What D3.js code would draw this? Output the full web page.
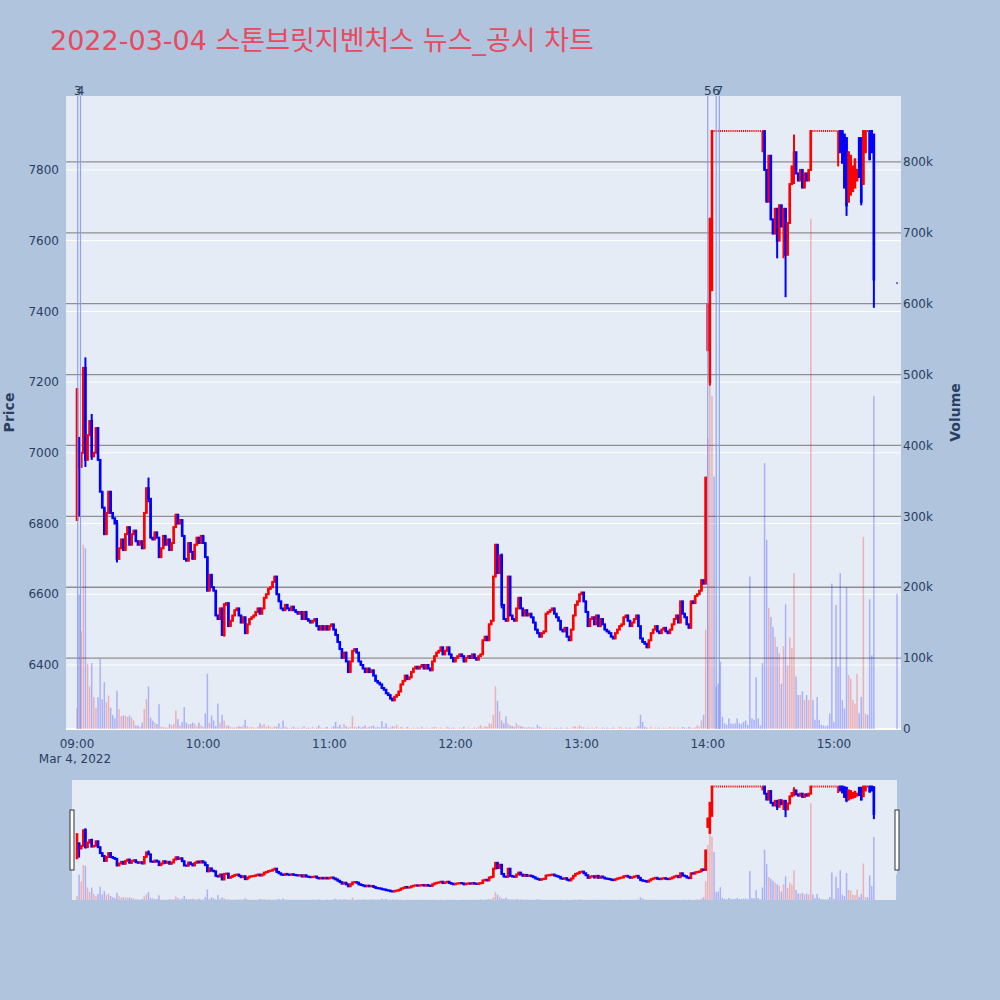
<!DOCTYPE html>
<html>
<head>
<meta charset="utf-8">
<script src="https://cdn.jsdelivr.net/npm/d3@7"></script>
<style>
  body { margin: 0; background: #b0c4de; }
  text { font-family: "DejaVu Sans", "Noto Sans CJK KR", sans-serif; }
</style>
</head>
<body>
<svg id="chart" width="1000" height="1000"></svg>
<script>
// 1-minute closes from 09:00 (index = minutes after 09:00)
const closes = [
  7180,6960,7000,7240,6980,7050,7090,6990,7000,7070,
  6980,6890,6845,6770,6830,6890,6830,6815,6800,6700,
  6730,6755,6725,6770,6790,6740,6770,6780,6750,6740,
  6750,6730,6830,6900,6870,6760,6755,6775,6760,6705,
  6730,6765,6740,6755,6725,6745,6790,6825,6800,6810,
  6765,6700,6695,6745,6720,6700,6740,6760,6745,6765,
  6745,6705,6610,6655,6620,6610,6540,6530,6560,6485,
  6570,6575,6510,6525,6540,6555,6560,6540,6520,6535,
  6490,6515,6530,6535,6540,6550,6560,6545,6560,6590,
  6600,6615,6620,6635,6650,6600,6580,6560,6555,6570,
  6560,6555,6565,6555,6550,6545,6550,6530,6550,6530,
  6525,6520,6525,6530,6510,6500,6510,6500,6510,6500,
  6510,6515,6500,6485,6465,6445,6420,6435,6410,6380,
  6410,6440,6445,6435,6410,6400,6390,6380,6390,6380,
  6385,6370,6355,6350,6345,6335,6330,6320,6315,6305,
  6300,6310,6315,6325,6345,6355,6370,6360,6365,6380,
  6390,6395,6390,6395,6400,6390,6400,6390,6385,6410,
  6425,6435,6440,6450,6430,6440,6450,6430,6420,6410,
  6420,6425,6430,6425,6410,6420,6425,6420,6430,6420,
  6415,6425,6430,6470,6480,6470,6515,6525,6650,6740,
  6660,6710,6570,6530,6525,6650,6540,6530,6525,6560,
  6590,6560,6540,6555,6540,6545,6535,6520,6500,6490,
  6480,6490,6495,6545,6550,6555,6560,6545,6535,6525,
  6500,6495,6505,6480,6470,6500,6540,6570,6580,6600,
  6605,6580,6550,6510,6530,6535,6515,6540,6510,6530,
  6515,6500,6495,6490,6480,6475,6490,6500,6510,6515,
  6535,6540,6525,6510,6520,6530,6540,6510,6475,6465,
  6460,6450,6470,6490,6500,6510,6495,6490,6500,6505,
  6495,6490,6500,6515,6530,6540,6520,6580,6545,6535,
  6515,6505,6580,6575,6595,6600,6610,6640,6630,6930,
  7420,7660,7910,7910,7910,7910,7910,7910,7910,7910,
  7910,7910,7910,7910,7910,7910,7910,7910,7910,7910,
  7910,7910,7910,7910,7910,7910,7910,7800,7710,7840,
  7660,7620,7690,7600,7700,7640,7690,7560,7650,7760,
  7810,7850,7790,7770,7800,7750,7790,7770,7800,7910,
  7910,7910,7910,7910,7910,7910,7910,7910,7910,7910,
  7910,7910,7910,7850,7820,7750,7700,7850,7840,7810,
  7830,7800,7780,7710,7910,7910,7910,7830,7850,7490
];

// volume per minute, thousands of shares
const volumes = [
  30,190,138,260,255,92,60,93,45,30,
  45,99,42,66,38,47,30,20,15,54,
  28,18,19,19,17,19,16,12,5,5,
  3,9,28,42,60,16,12,9,7,35,
  3,3,2,2,7,5,7,26,14,5,
  10,31,9,7,7,9,7,4,9,5,
  3,22,78,9,19,12,4,36,9,20,
  12,5,5,3,2,2,3,4,3,5,
  13,4,2,3,2,1,3,8,5,7,
  3,5,3,2,4,3,8,2,12,3,
  2,1,2,3,1,2,1,2,4,1,
  2,1,3,1,2,5,2,1,2,3,
  1,2,4,10,3,6,2,7,4,2,
  3,18,3,2,4,2,3,5,2,3,
  4,5,2,3,2,11,3,8,2,2,
  4,3,6,2,3,2,1,3,2,1,
  2,1,2,1,3,1,2,1,1,2,
  3,2,1,2,1,1,3,2,1,2,
  1,1,2,1,3,1,2,1,1,2,
  1,3,5,2,4,3,8,7,20,60,
  40,25,12,8,18,8,5,4,3,8,
  5,4,3,2,2,3,2,2,1,6,
  3,2,1,2,1,2,1,1,2,1,
  2,1,1,2,1,1,3,4,2,5,
  3,2,1,2,1,2,1,3,1,1,
  2,1,2,1,1,2,1,1,3,2,
  1,2,1,2,1,1,2,4,20,10,
  3,2,1,3,1,2,1,2,1,2,
  1,1,3,1,2,1,2,1,3,2,
  1,3,2,1,2,5,3,12,20,140,
  410,490,470,356,60,64,95,17,8,6,
  15,8,7,8,15,8,7,10,12,6,
  215,15,13,73,15,5,93,375,267,171,
  158,144,130,116,107,64,117,176,90,129,
  114,220,74,48,48,53,41,48,41,720,
  41,13,45,13,6,5,4,5,22,205,
  10,175,88,220,41,29,200,76,71,41,
  36,78,22,45,271,22,20,183,104,470
];

// candles whose open is not the previous close: [minute, open]
const gapOpens = [
  [0,6810],[1,7040],[300,7290],[301,7200],[302,7460],
  [363,7910],[364,7910],[365,7900],[366,7890],[367,7710],[368,7730],
  [369,7740],[370,7750],[371,7770],[372,7890],[373,7890],[374,7760],
  [375,7850],[377,7910],[378,7910],[379,7900]
];
// visible wicks: [minute, low, high]
const wicks = [
  [1,6820,7045],[4,6960,7270],[7,6980,7110],[19,6690,6810],[34,6860,6930],
  [70,6480,6575],[202,6560,6715],[301,7190,7665],[326,7850,7910],
  [330,7660,7840],[333,7550,7690],[336,7550,7690],[337,7440,7650],
  [341,7760,7900],[362,7810,7910],[366,7670,7890],[373,7700,7890],[379,7410,7900]
];
// 15:30 closing auction
const closingMinute = 390;
const closingPrice = 7480;
const closingVolume = 191;

const newsTimes = ["09:00:20", "09:01:40", "14:00:00", "14:04:00", "14:05:30"];
const newsLabels = ["3", "4", "5", "6", "7"];

const priceTicks = [6400, 6600, 6800, 7000, 7200, 7400, 7600, 7800];
const volumeTicks = [0, 100, 200, 300, 400, 500, 600, 700, 800];
const timeTicks = ["09:00", "10:00", "11:00", "12:00", "13:00", "14:00", "15:00"];
const xDomain = ["08:54:46", "15:31:54"];
const priceDomain = [6219, 8009];
const volumeDomain = [0, 893];
const sliderPriceDomain = [6170, 8010];

const titleText = "2022-03-04 스톤브릿지벤처스 뉴스_공시 차트";

const plot = {left: 66, right: 901, top: 96, bottom: 729};
const slider = {left: 72, right: 897, top: 780, bottom: 900};
const UP = "#ff0000", DOWN = "#0000ff", INK = "#2a3f5f";

const day = s => { const p = s.split(":").map(Number); return new Date(2022, 2, 4, p[0], p[1], p[2] || 0); };
const start = day("09:00");
const atMinute = m => new Date(start.getTime() + m * 60000);

// build candles
const openMap = new Map(gapOpens);
const wickMap = new Map(wicks.map(w => [w[0], [w[1], w[2]]]));
const candles = closes.map((c, m) => {
  const o = openMap.has(m) ? openMap.get(m) : closes[m - 1];
  const w = wickMap.get(m) || [c, c];
  return {t: atMinute(m), o: o, c: c, l: Math.min(o, c, w[0]), h: Math.max(o, c, w[1]), v: volumes[m]};
});
candles.push({t: atMinute(closingMinute), o: closingPrice, c: closingPrice,
  l: closingPrice, h: closingPrice, v: closingVolume});

// plotly-like direction: flat candles compare with previous close, else keep previous direction
let inc = true, prevC = null;
candles.forEach(d => {
  if (d.c === d.o) { if (prevC !== null && d.c !== prevC) inc = d.c > prevC; }
  else inc = d.c > d.o;
  d.inc = inc;
  prevC = d.c;
});

const svg = d3.select("#chart");
svg.append("rect").attr("width", 1000).attr("height", 1000).attr("fill", "#b0c4de");

const x = d3.scaleTime().domain(xDomain.map(day)).range([plot.left, plot.right]);
const yPrice = d3.scaleLinear().domain(priceDomain).range([plot.bottom, plot.top]);
const yVol = d3.scaleLinear().domain(volumeDomain).range([plot.bottom, plot.top]);
const ysPrice = d3.scaleLinear().domain(sliderPriceDomain).range([slider.bottom, slider.top]);
const ysVol = d3.scaleLinear().domain(volumeDomain).range([slider.bottom, slider.top]);

const defs = svg.append("defs");
defs.append("clipPath").attr("id", "clipMain").append("rect")
  .attr("x", plot.left).attr("y", plot.top)
  .attr("width", plot.right - plot.left).attr("height", plot.bottom - plot.top);
defs.append("clipPath").attr("id", "clipSlider").append("rect")
  .attr("x", slider.left).attr("y", slider.top)
  .attr("width", slider.right - slider.left).attr("height", slider.bottom - slider.top);

// plot background + grids
svg.append("rect").attr("x", plot.left).attr("y", plot.top)
  .attr("width", plot.right - plot.left).attr("height", plot.bottom - plot.top)
  .attr("fill", "#e5ecf6");

svg.append("g").selectAll("line").data(priceTicks).join("line")
  .attr("x1", plot.left).attr("x2", plot.right)
  .attr("y1", d => yPrice(d)).attr("y2", d => yPrice(d))
  .attr("stroke", "#fff").attr("stroke-width", 1);

svg.append("g").selectAll("line").data(volumeTicks.slice(1)).join("line")
  .attr("x1", plot.left).attr("x2", plot.right)
  .attr("y1", d => yVol(d)).attr("y2", d => yVol(d))
  .attr("stroke", "#8f8f8f").attr("stroke-width", 1.3);

svg.append("line").attr("x1", plot.left).attr("x2", plot.right)
  .attr("y1", yVol(0)).attr("y2", yVol(0)).attr("stroke", "#fff").attr("stroke-width", 2);

function drawTraces(g, yp, yv) {
  g.append("g").selectAll("rect").data(candles).join("rect")
    .attr("x", d => x(d.t) - 0.75).attr("width", 1.5)
    .attr("y", d => yv(d.v)).attr("height", d => yv(0) - yv(d.v))
    .attr("fill", d => d.c > d.o ? UP : DOWN).attr("fill-opacity", 0.25);

  g.append("g").selectAll("line").data(candles.filter(d => d.h > d.l)).join("line")
    .attr("x1", d => x(d.t)).attr("x2", d => x(d.t))
    .attr("y1", d => yp(d.h)).attr("y2", d => yp(d.l))
    .attr("stroke", d => d.inc ? UP : DOWN).attr("stroke-width", 2);

  // body: box stroke of 2px makes moving candles wider than flat ones
  g.append("g").selectAll("rect").data(candles).join("rect")
    .attr("x", d => x(d.t) - (d.o === d.c ? 0.55 : 1.3))
    .attr("width", d => d.o === d.c ? 1.1 : 2.6)
    .attr("y", d => yp(Math.max(d.o, d.c)) - 1)
    .attr("height", d => Math.abs(yp(d.o) - yp(d.c)) + 2)
    .attr("fill", d => d.inc ? UP : DOWN);
}

drawTraces(svg.append("g").attr("clip-path", "url(#clipMain)"), yPrice, yVol);

// news markers
const news = newsTimes.map((t, i) => ({t: day(t), label: newsLabels[i]}));
svg.append("g").selectAll("line").data(news).join("line")
  .attr("x1", d => x(d.t)).attr("x2", d => x(d.t))
  .attr("y1", plot.top).attr("y2", plot.bottom)
  .attr("stroke", "#7d98ee").attr("stroke-opacity", 0.85).attr("stroke-width", 1.2);
svg.append("g").selectAll("text").data(news).join("text")
  .attr("x", d => x(d.t)).attr("y", plot.top - 1)
  .attr("text-anchor", "middle").attr("font-size", 12).attr("fill", INK)
  .text(d => d.label);

// axes labels
svg.append("g").selectAll("text").data(priceTicks).join("text")
  .attr("x", 59).attr("y", d => yPrice(d)).attr("dy", "0.35em")
  .attr("text-anchor", "end").attr("font-size", 12).attr("fill", INK)
  .text(d => d);
svg.append("g").selectAll("text").data(volumeTicks).join("text")
  .attr("x", 903).attr("y", d => yVol(d)).attr("dy", "0.35em")
  .attr("text-anchor", "start").attr("font-size", 12).attr("fill", INK)
  .text(d => d === 0 ? "0" : d + "k");
svg.append("g").selectAll("text").data(timeTicks).join("text")
  .attr("x", d => x(day(d))).attr("y", 748)
  .attr("text-anchor", "middle").attr("font-size", 12).attr("fill", INK)
  .text(d => d);
svg.append("text").attr("x", 75).attr("y", 763)
  .attr("text-anchor", "middle").attr("font-size", 12).attr("fill", INK)
  .text("Mar 4, 2022");

svg.append("text").attr("transform", "translate(14," + (plot.top + plot.bottom) / 2 + ") rotate(-90)")
  .attr("text-anchor", "middle").attr("font-size", 14).attr("font-weight", "bold").attr("fill", INK)
  .text("Price");
svg.append("text").attr("transform", "translate(960," + (plot.top + plot.bottom) / 2 + ") rotate(-90)")
  .attr("text-anchor", "middle").attr("font-size", 14).attr("font-weight", "bold").attr("fill", INK)
  .text("Volume");

svg.append("text").attr("x", 50).attr("y", 50)
  .attr("font-size", 27).attr("fill", "#e84a5f")
  .text(titleText);

// range slider
svg.append("rect").attr("x", slider.left).attr("y", slider.top)
  .attr("width", slider.right - slider.left).attr("height", slider.bottom - slider.top)
  .attr("fill", "#e5ecf6");
drawTraces(svg.append("g").attr("clip-path", "url(#clipSlider)"), ysPrice, ysVol);
[slider.left - 2, slider.right - 2].forEach(hx => {
  svg.append("rect").attr("x", hx).attr("y", 810).attr("width", 4).attr("height", 60)
    .attr("fill", "#fff").attr("stroke", "#333").attr("stroke-width", 1);
});
</script>
</body>
</html>
